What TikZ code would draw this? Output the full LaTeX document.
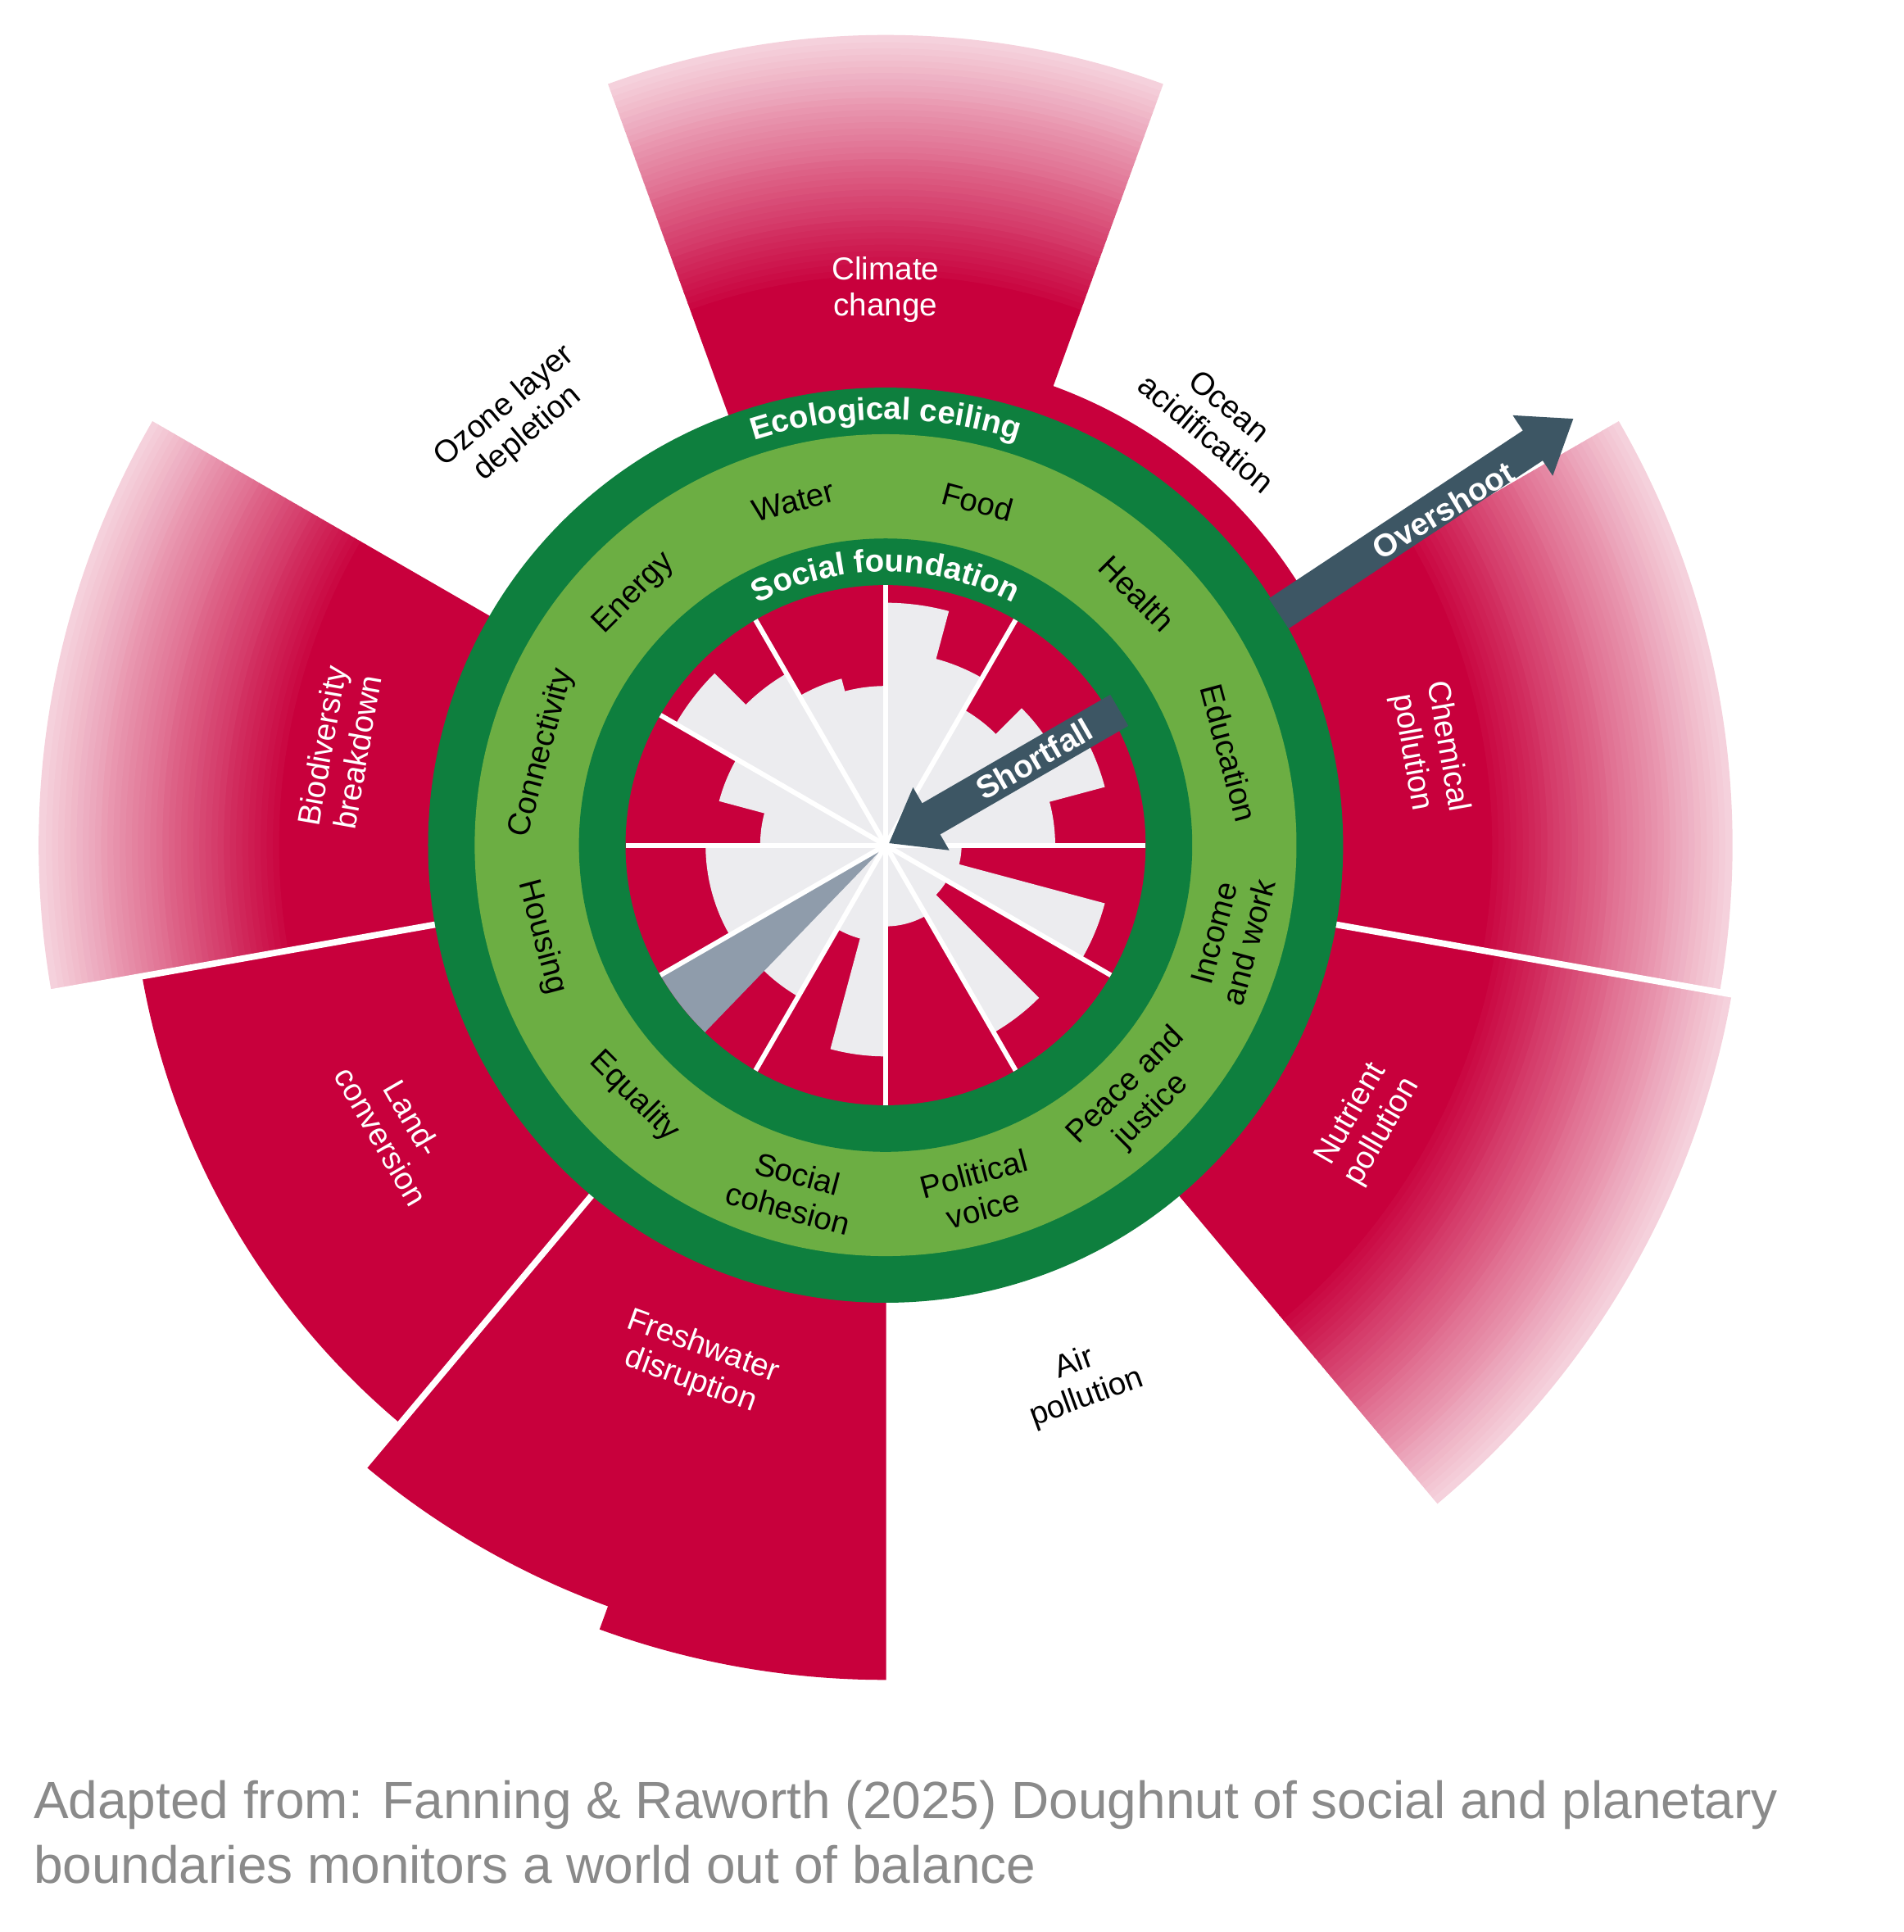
\documentclass[tikz,border=0pt]{standalone}
\usepackage{fontspec}
\setmainfont{Liberation Sans}
\usetikzlibrary{arrows.meta,decorations.text}
\definecolor{dred}{HTML}{C8003C}
\definecolor{dgreen}{HTML}{0E7F3E}
\definecolor{lgreen}{HTML}{6CAE43}
\definecolor{pale}{HTML}{ECECEF}
\definecolor{slate}{HTML}{3D5664}
\definecolor{haze}{HTML}{8F9CAB}
\definecolor{cap}{HTML}{8A8A8A}
% ring segment: colour, start angle, end angle, inner radius, outer radius
\newcommand{\seg}[5]{\filldraw[#1, line width=0.4pt] (#2:#4) arc[start angle=#2,end angle=#3,radius=#4] -- (#3:#5) arc[start angle=#3,end angle=#2,radius=#5] -- cycle;}
% red segment that fades to white at its outer end
\newcommand{\fadeseg}[4]{%
  \pgfmathsetmacro\rs{#4-200}
  \seg{dred}{#1}{#2}{#3}{\rs}
  \foreach \k in {0,...,39}{
    \pgfmathsetmacro\ra{#4-200+5*\k}
    \pgfmathsetmacro\rb{#4-195+5*\k}
    \pgfmathtruncatemacro\p{100-2.1*\k}
    \seg{dred!\p!white}{#1}{#2}{\ra}{\rb}}}

\begin{document}
\begin{tikzpicture}[x=0.01497cm, y=0.01497cm,
    lab/.style = {font=\fontsize{11}{12.5}\selectfont, align=center, inner sep=0pt},
    wlab/.style = {lab, text=white},
    gap/.style = {white, line width=2.2pt},
    spoke/.style = {white, line width=1.7pt},
    bigarrow/.style = {slate, line width=12.5pt, -{Triangle[width=24pt,length=17pt]}}]
  \useasboundingbox (-722,-886) rectangle (830,689);
  \fill[white] (-722,-886) rectangle (830,689);
  % ecological overshoot
  \fadeseg{70}{110}{300}{660}
  \seg{dred}{30}{70}{300}{398}
  \fadeseg{-10}{30}{300}{690}
  \fadeseg{-50}{-10}{300}{700}
  \seg{dred}{-130}{-110}{300}{660}
  \seg{dred}{-110}{-90}{300}{680}
  \seg{dred}{-170}{-130}{300}{615}
  \fadeseg{150}{190}{300}{690}
  \foreach \a in {-10,-130,-170}
    \draw[gap] (\a:370) -- (\a:720);
  % doughnut rings
  \fill[dgreen] (0,0) circle[radius=373];
  \fill[lgreen] (0,0) circle[radius=335];
  \fill[dgreen] (0,0) circle[radius=250];
  \fill[dred] (0,0) circle[radius=212];
  % social shortfall
  \foreach \a/\b/\f in {90/105/0.61, 105/120/0.66, 120/135/0.76, 135/150/0.93,
      150/165/0.66, 165/180/0.48, 180/210/0.69, 226/240/0.67, 240/255/0.37,
      255/270/0.81, 270/300/0.31, 300/315/0.83, 315/330/0.27, 330/345/0.87,
      345/360/0.29, 0/15/0.65, 15/30/0.87, 30/45/0.74, 45/60/0.6,
      60/75/0.74, 75/90/0.93}
    \filldraw[pale, line width=0.4pt] (0,0) -- (\a:\f*212) arc[start angle=\a,end angle=\b,radius=\f*212] -- cycle;
  \fill[haze] (0,0) -- (210:212) arc[start angle=210,end angle=226,radius=212] -- cycle;
  \foreach \a in {0,30,...,330}
    \draw[spoke] (0,0) -- (\a:212);
  % ring titles
  \path[decorate, decoration={text along path, text align=center, text color=white,
      text={|\bfseries\fontsize{11}{12}\selectfont|Ecological ceiling}}]
    (130:347) arc[start angle=130,end angle=50,radius=347];
  \path[decorate, decoration={text along path, text align=center, text color=white,
      text={|\bfseries\fontsize{11}{12}\selectfont|Social foundation}}]
    (140:223) arc[start angle=140,end angle=40,radius=223];
  % social labels
  \node[lab, rotate=15] (water) at (105:290) {Water};
  \node[lab, rotate=-15] (food) at (75:290) {Food};
  \node[lab, rotate=-45] (health) at (45:290) {Health};
  \node[lab, rotate=-75] (edu) at (15:290) {Education};
  \node[lab, rotate=75] (income) at (-15:292) {Income\\and work};
  \node[lab, rotate=45] (peace) at (-45:292) {Peace and\\justice};
  \node[lab, rotate=15] (voice) at (-75:292) {Political\\voice};
  \node[lab, rotate=-15] (cohesion) at (-105:292) {Social\\cohesion};
  \node[lab, rotate=-45] (equality) at (-135:290) {Equality};
  \node[lab, rotate=-75] (housing) at (-165:290) {Housing};
  \node[lab, rotate=75] (connect) at (165:290) {Connectivity};
  \node[lab, rotate=45] (energy) at (135:290) {Energy};
  % ecological labels
  \node[wlab] (climate) at (90:453) {Climate\\change};
  \node[lab, rotate=-40] (ocean) at (52:440) {Ocean\\acidification};
  \node[wlab, rotate=-80] (chem) at (10:450) {Chemical\\pollution};
  \node[wlab, rotate=60] (nutri) at (-30:453) {Nutrient\\pollution};
  \node[lab, rotate=20] (air) at (-70:465) {Air\\pollution};
  \node[wlab, rotate=-20] (fresh) at (-110:450) {Freshwater\\disruption};
  \node[wlab, rotate=-60] (land) at (-150:460) {Land-\\conversion};
  \node[wlab, rotate=80] (biodiv) at (170:452) {Biodiversity\\breakdown};
  \node[lab, rotate=40] (ozone) at (131:459) {Ozone layer\\depletion};
  % arrows
  \coordinate (os0) at (30.5:372);
  \coordinate (os1) at (31.8:660);
  \draw[bigarrow] (os0) -- (os1);
  \node[wlab, font=\bfseries\fontsize{11}{12}\selectfont, rotate=31] (over) at (31:530) {Overshoot};
  \coordinate (sf0) at (30:220);
  \coordinate (sf1) at (30:3);
  \draw[bigarrow] (sf0) -- (sf1);
  \node[wlab, font=\bfseries\fontsize{11}{12}\selectfont, rotate=30] (short) at (30:140) {Shortfall};
  % source
  \node[anchor=north west, align=left, inner sep=0pt, text=cap,
        font=\fontsize{18.2}{22.5}\selectfont] (src) at (-695,-762)
    {Adapted from: Fanning \& Raworth (2025) Doughnut of social and planetary\\boundaries monitors a world out of balance};
\end{tikzpicture}
\end{document}
